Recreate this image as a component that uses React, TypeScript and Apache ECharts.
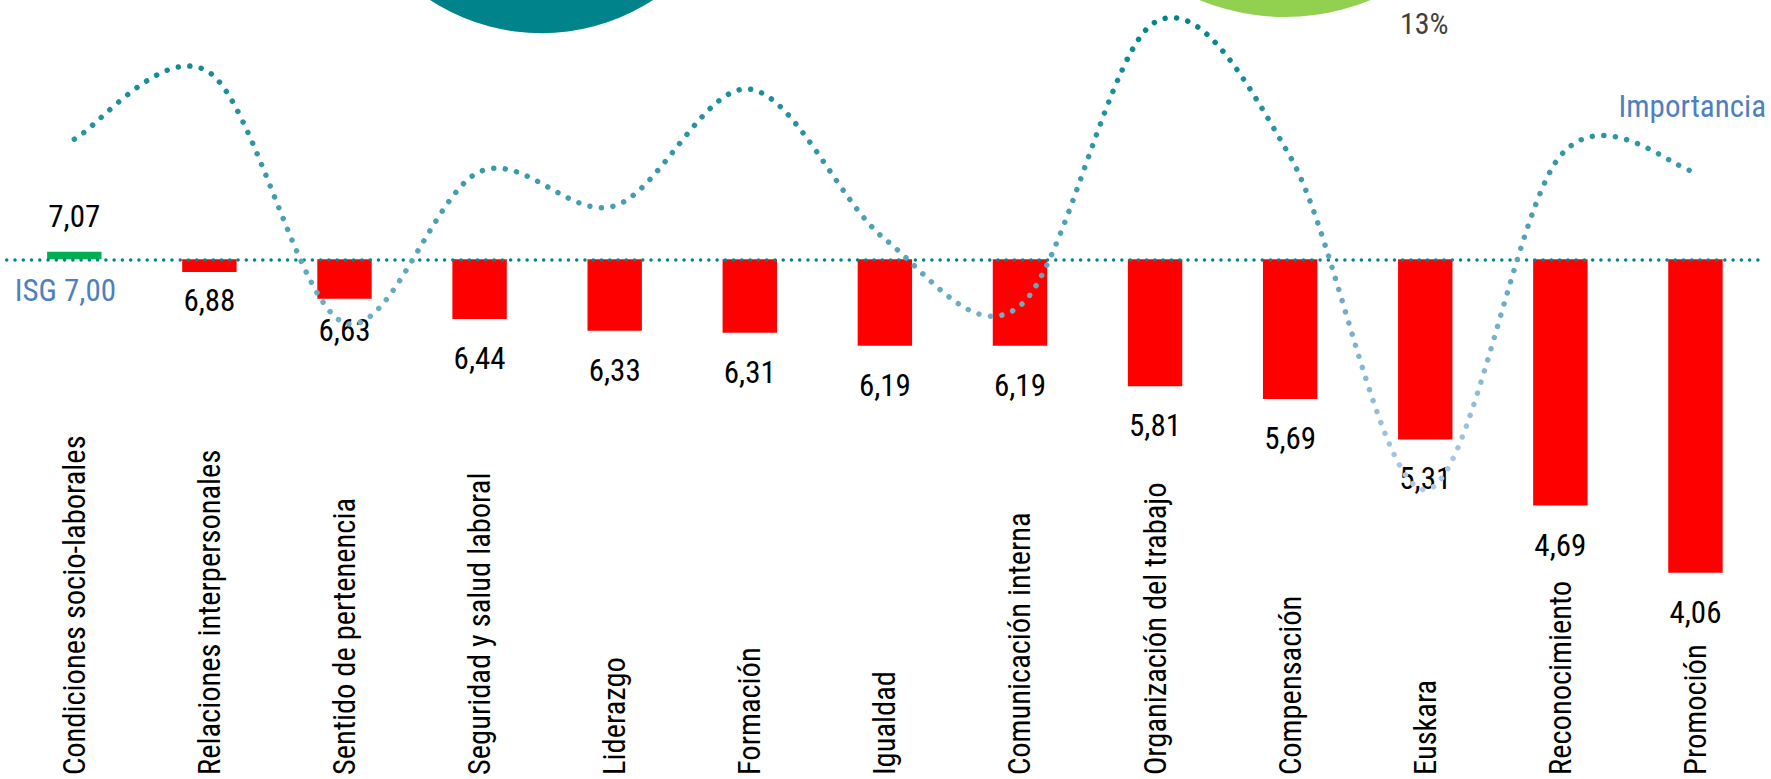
import React, { useEffect, useRef } from "react";
import * as echarts from "echarts";

const categories = [
  "Condiciones socio-laborales",
  "Relaciones interpersonales",
  "Sentido de pertenencia",
  "Seguridad y salud laboral",
  "Liderazgo",
  "Formación",
  "Igualdad",
  "Comunicación interna",
  "Organización del trabajo",
  "Compensación",
  "Euskara",
  "Reconocimiento",
  "Promoción",
];
const scores = [7.07, 6.88, 6.63, 6.44, 6.33, 6.31, 6.19, 6.19, 5.81, 5.69, 5.31, 4.69, 4.06];
const isgValue = 7.0;
const importance = [16.46, 18.18, 11.72, 15.62, 14.74, 17.75, 13.88, 12.16, 19.48, 16.01, 7.41, 16.03, 15.61];
const isgLabel = "ISG 7,00";
const importanceLabel = "Importancia";
const decoPercent = "13%";

const FONT = "'Roboto Condensed', 'DejaVu Sans Condensed', sans-serif";

const W = 1771;
const H = 779;
const GRID_TOP = 2;
const GRID_BOTTOM = 2;
const BASE_Y = 259.3;
const PX_PER_UNIT = 106.6;
const barMax = (BASE_Y - GRID_TOP) / PX_PER_UNIT;
const barMin = -(H - GRID_BOTTOM - BASE_Y) / PX_PER_UNIT;

const fmt = (v: number) => v.toFixed(2).replace(".", ",");
const labelGap = (i: number) => (i === 1 ? 13 : i === 2 ? 16 : 24);

// Smooth curve through the points (Catmull-Rom style, like office charts)
function smoothPath(pts: number[][]): string {
  if (!pts.length) return "";
  let d = `M${pts[0][0]},${pts[0][1]}`;
  for (let i = 0; i < pts.length - 1; i++) {
    const p0 = pts[i - 1] || pts[i];
    const p1 = pts[i];
    const p2 = pts[i + 1];
    const p3 = pts[i + 2] || pts[i + 1];
    const c1x = p1[0] + (p2[0] - p0[0]) / 6;
    const c1y = p1[1] + (p2[1] - p0[1]) / 6;
    const c2x = p2[0] - (p3[0] - p1[0]) / 6;
    const c2y = p2[1] - (p3[1] - p1[1]) / 6;
    d += ` C${c1x},${c1y} ${c2x},${c2y} ${p2[0]},${p2[1]}`;
  }
  return d;
}

export default function App() {
  const ref = useRef<HTMLDivElement>(null);
  useEffect(() => {
    if (!ref.current) return;
    const chart = echarts.init(ref.current, undefined, { renderer: "svg" });
    const option: any = {
      animation: false,
      backgroundColor: "#ffffff",
      grid: { left: 6.75, right: 8, top: GRID_TOP, bottom: GRID_BOTTOM, containLabel: false },
      xAxis: {
        type: "category",
        data: categories,
        position: "bottom",
        axisLine: { show: false, onZero: false },
        axisTick: { show: false },
        splitLine: { show: false },
        axisLabel: {
          inside: true,
          rotate: 90,
          margin: 2,
          interval: 0,
          fontSize: 30.5,
          fontFamily: FONT,
          color: "#000000",
        },
      },
      yAxis: [
        { type: "value", min: barMin, max: barMax, show: false, splitLine: { show: false } },
        { type: "value", min: 0, max: 20, show: false, splitLine: { show: false } },
      ],
      series: [
        {
          type: "bar",
          name: "ISG",
          z: 2,
          barWidth: 54.4,
          data: scores.map((s, i) => ({
            value: +(s - isgValue).toFixed(4),
            itemStyle: { color: s >= isgValue ? "#00B050" : "#FF0000" },
            label: { distance: s >= isgValue ? 20 : labelGap(i) },
          })),
          label: {
            show: true,
            position: "outside",
            formatter: (p: any) => fmt(scores[p.dataIndex]),
            fontSize: 31,
            fontFamily: FONT,
            color: "#000000",
          },
          markLine: {
            silent: true,
            z: 5,
            symbol: ["none", "none"],
            lineStyle: { color: "#00868A", width: 3.5, type: [0.01, 8.25], cap: "round" },
            label: {
              show: true,
              position: "insideStartBottom",
              formatter: isgLabel,
              distance: [8, 16],
              fontSize: 31,
              fontFamily: FONT,
              color: "#4F7FC1",
            },
            data: [{ yAxis: 0 }],
          },
        },
        {
          type: "custom",
          name: importanceLabel,
          yAxisIndex: 1,
          z: 6,
          silent: true,
          data: importance.map((v, i) => [i, v]),
          encode: { x: 0, y: 1 },
          renderItem: (params: any, api: any) => {
            if (params.dataIndex !== 0) return null;
            const pts = importance.map((v, i) => api.coord([i, v]));
            return {
              type: "path",
              shape: { pathData: smoothPath(pts) },
              style: {
                fill: "none",
                stroke: new echarts.graphic.LinearGradient(0, 0, 0, 1, [
                  { offset: 0, color: "#00848A" },
                  { offset: 0.5, color: "#58A5BA" },
                  { offset: 1, color: "#B4CAE8" },
                ]),
                lineWidth: 5.5,
                lineDash: [0.01, 11.6],
                lineCap: "round",
              },
            };
          },
        },
      ],
      graphic: [
        { type: "circle", z: 0, shape: { cx: 541.5, cy: -170, r: 203.3 }, style: { fill: "#00838A" } },
        { type: "circle", z: 0, shape: { cx: 1285, cy: -208, r: 225 }, style: { fill: "#92D050" } },
        {
          type: "text",
          x: 1400,
          y: 23,
          style: {
            text: decoPercent,
            fill: "#404040",
            font: `30px ${FONT}`,
            align: "left",
            verticalAlign: "middle",
            textAlign: "left",
            textVerticalAlign: "middle",
          },
        },
        {
          type: "text",
          x: 1766,
          y: 106.5,
          style: {
            text: importanceLabel,
            fill: "#4F7FC1",
            font: `31px ${FONT}`,
            align: "right",
            verticalAlign: "middle",
            textAlign: "right",
            textVerticalAlign: "middle",
          },
        },
      ],
    };
    chart.setOption(option);
    return () => chart.dispose();
  }, []);
  return (
    <div
      ref={ref}
      style={{ position: "absolute", left: 0, top: 0, width: W, height: H }}
    />
  );
}
